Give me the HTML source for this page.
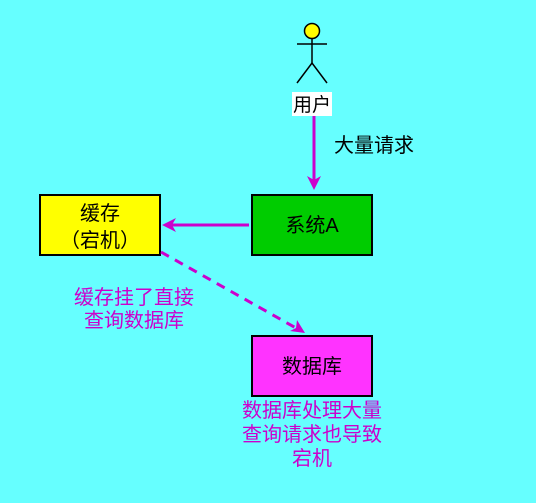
<!DOCTYPE html>
<html><head><meta charset="utf-8"><style>
html,body{margin:0;padding:0;background:#66ffff;width:536px;height:503px;overflow:hidden}
</style></head><body>
<svg width="536" height="503" xmlns="http://www.w3.org/2000/svg" style="position:absolute;left:0;top:0;font-family:'Liberation Sans','Noto Sans CJK SC',sans-serif">
<rect width="536" height="503" fill="#66ffff"/>
<circle cx="312" cy="31" r="7.5" fill="#ffff00" stroke="#000" stroke-width="1.5"/>
<g stroke="#000" stroke-width="1.5" fill="none">
<line x1="297" y1="44" x2="327" y2="44"/>
<line x1="312" y1="39" x2="312" y2="63"/>
<polyline points="297,83 312,63 327,83"/>
</g>
<rect x="292" y="92" width="40" height="24" fill="#fff"/>
<text x="312" y="111" font-size="19" text-anchor="middle" fill="#000">用户</text>
<line x1="314" y1="116" x2="314" y2="180" stroke="#cc00cc" stroke-width="3"/>
<polygon points="307,176 314,190 321,176 314,180" fill="#cc00cc"/>
<text x="334" y="152" font-size="20" fill="#000">大量请求</text>
<rect x="40" y="195" width="120" height="60" fill="#ffff00" stroke="#000" stroke-width="2"/>
<text x="100" y="220" font-size="20" text-anchor="middle">缓存</text>
<text x="100" y="247" font-size="20" text-anchor="middle">（宕机）</text>
<rect x="252" y="195" width="120" height="60" fill="#00cc00" stroke="#000" stroke-width="2"/>
<text x="312" y="232" font-size="20" text-anchor="middle">系统A</text>
<line x1="249" y1="225" x2="172" y2="225" stroke="#cc00cc" stroke-width="3"/>
<polygon points="162,225 176,218 172,225 176,232" fill="#cc00cc"/>
<line x1="161" y1="252" x2="296" y2="328" stroke="#cc00cc" stroke-width="3" stroke-dasharray="9,7"/>
<polygon points="305,333 290,331 296,328 297,320" fill="#cc00cc"/>
<text x="134" y="304" font-size="20" text-anchor="middle" fill="#cc00cc">缓存挂了直接</text>
<text x="134" y="327" font-size="20" text-anchor="middle" fill="#cc00cc">查询数据库</text>
<rect x="252" y="336" width="120" height="60" fill="#ff33ff" stroke="#000" stroke-width="2"/>
<text x="312" y="373" font-size="20" text-anchor="middle">数据库</text>
<text x="312" y="417" font-size="20" text-anchor="middle" fill="#cc00cc">数据库处理大量</text>
<text x="312" y="441" font-size="20" text-anchor="middle" fill="#cc00cc">查询请求也导致</text>
<text x="312" y="465" font-size="20" text-anchor="middle" fill="#cc00cc">宕机</text>
</svg>
</body></html>
